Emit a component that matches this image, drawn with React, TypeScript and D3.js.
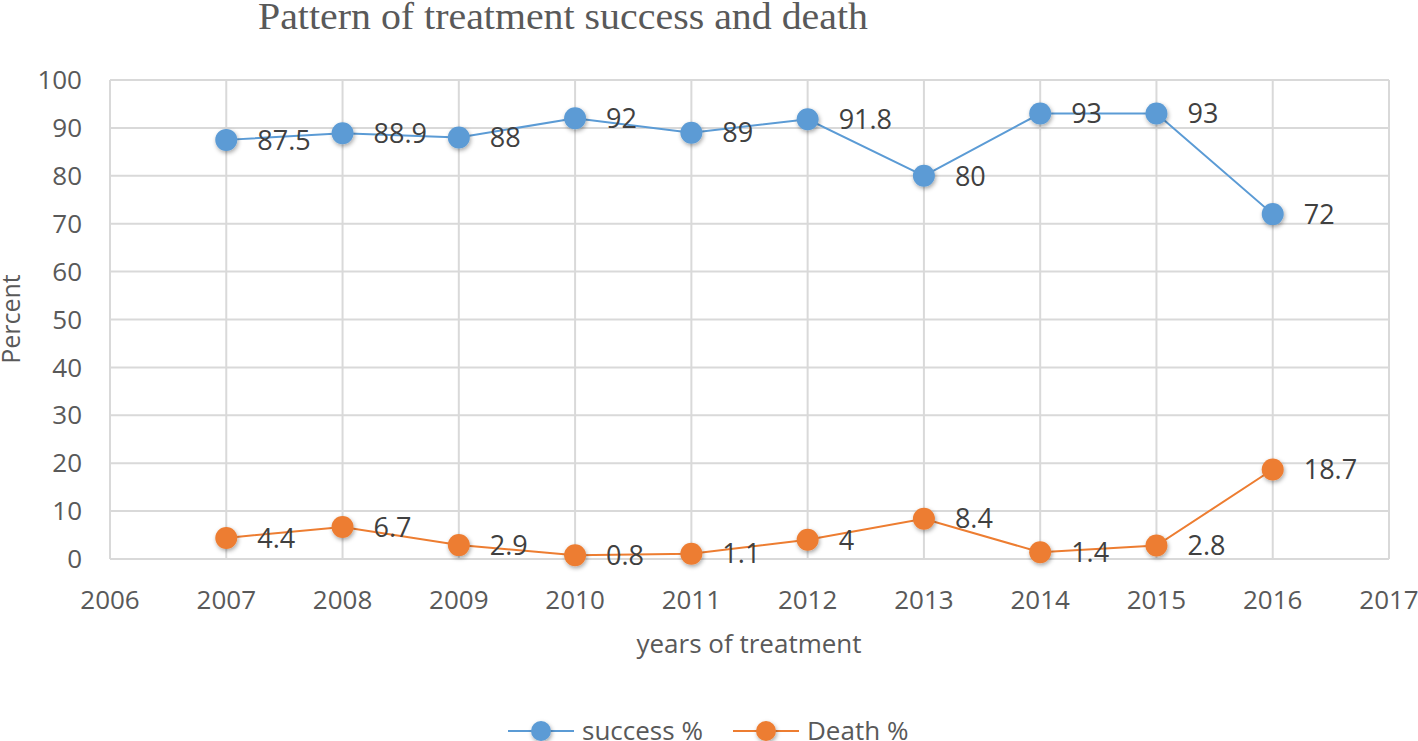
import React from "react";
import * as d3 from "d3";

const years = [2007, 2008, 2009, 2010, 2011, 2012, 2013, 2014, 2015, 2016];
const successPct = [87.5, 88.9, 88, 92, 89, 91.8, 80, 93, 93, 72];
const deathPct = [4.4, 6.7, 2.9, 0.8, 1.1, 4, 8.4, 1.4, 2.8, 18.7];
const xTicks = [2006, 2007, 2008, 2009, 2010, 2011, 2012, 2013, 2014, 2015, 2016, 2017];
const yTicks = [0, 10, 20, 30, 40, 50, 60, 70, 80, 90, 100];
const seriesNames = ["success %", "Death %"];
const seriesColors = ["#5B9BD5", "#ED7D31"];

const W = 1418;
const H = 741;
const FONT = "'Open Sans', Lato, sans-serif";

export default function App() {
  const x = d3.scaleLinear().domain([2006, 2017]).range([110, 1389]);
  const y = d3.scaleLinear().domain([0, 100]).range([559, 80]);
  const line = d3
    .line<[number, number]>()
    .x((d) => x(d[0]))
    .y((d) => y(d[1]));
  const series = [successPct, deathPct];

  return (
    <svg
      width={W}
      height={H}
      style={{ position: "absolute", left: 0, top: 0, background: "#fff" }}
    >
      <defs>
        <filter id="sh" x="-50%" y="-50%" width="200%" height="200%">
          <feDropShadow dx="1" dy="2" stdDeviation="2" floodColor="#000" floodOpacity="0.35" />
        </filter>
      </defs>
      <rect width={W} height={H} fill="#fff" />
      <text
        x={563}
        y={29}
        textAnchor="middle"
        fontFamily="'Liberation Serif', 'Times New Roman', serif"
        fontSize={37}
        fill="#595959"
        textLength={610}
        lengthAdjust="spacingAndGlyphs"
      >
        Pattern of treatment success and death
      </text>
      {yTicks.map((t) => (
        <g key={"y" + t}>
          <line x1={x(2006)} x2={x(2017)} y1={y(t)} y2={y(t)} stroke="#D9D9D9" strokeWidth={2} />
          <text
            x={82}
            y={y(t)}
            dy="0.35em"
            textAnchor="end"
            fontFamily={FONT}
            fontSize={26}
            fill="#595959"
          >
            {t}
          </text>
        </g>
      ))}
      {xTicks.map((t) => (
        <g key={"x" + t}>
          <line x1={x(t)} x2={x(t)} y1={y(0)} y2={y(100)} stroke="#D9D9D9" strokeWidth={2} />
          <text
            x={x(t)}
            y={609}
            textAnchor="middle"
            fontFamily={FONT}
            fontSize={26}
            fill="#595959"
          >
            {t}
          </text>
        </g>
      ))}
      <text
        x={749}
        y={653}
        textAnchor="middle"
        fontFamily={FONT}
        fontSize={26}
        fill="#595959"
      >
        years of treatment
      </text>
      <text
        transform={`translate(20,319) rotate(-90)`}
        textAnchor="middle"
        fontFamily={FONT}
        fontSize={25}
        fill="#595959"
      >
        Percent
      </text>
      {series.map((vals, si) => {
        const pts: [number, number][] = years.map((yr, i) => [yr, vals[i]]);
        return (
          <g key={"s" + si}>
            <path d={line(pts) || ""} fill="none" stroke={seriesColors[si]} strokeWidth={2} />
            {pts.map((p, i) => (
              <circle
                key={i}
                cx={x(p[0])}
                cy={y(p[1])}
                r={11}
                fill={seriesColors[si]}
                filter="url(#sh)"
              />
            ))}
            {pts.map((p, i) => (
              <text
                key={"l" + i}
                x={x(p[0]) + 31}
                y={y(p[1])}
                dy="0.36em"
                fontFamily={FONT}
                fontSize={27}
                fill="#404040"
              >
                {p[1]}
              </text>
            ))}
          </g>
        );
      })}
      {seriesNames.map((n, i) => {
        const x0 = i === 0 ? 508 : 733;
        return (
          <g key={"lg" + i}>
            <line x1={x0} x2={x0 + 66} y1={731} y2={731} stroke={seriesColors[i]} strokeWidth={2} />
            <circle cx={x0 + 33} cy={731} r={10} fill={seriesColors[i]} filter="url(#sh)" />
            <text
              x={x0 + 74}
              y={731}
              dy="0.35em"
              fontFamily={FONT}
              fontSize={26}
              fill="#595959"
            >
              {n}
            </text>
          </g>
        );
      })}
    </svg>
  );
}
